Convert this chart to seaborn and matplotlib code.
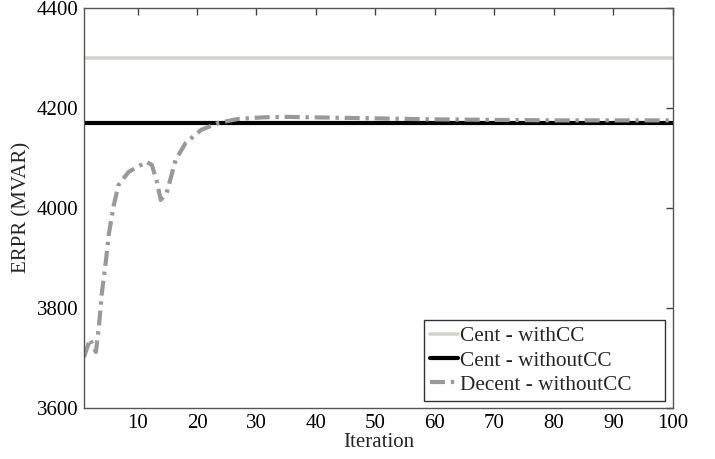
import matplotlib
matplotlib.use("Agg")
import matplotlib.pyplot as plt
import seaborn as sns
import pandas as pd
import numpy as np

sns.set_theme(style="white")
plt.rcParams['font.family'] = ['Liberation Serif', 'DejaVu Serif']
plt.rcParams['mathtext.fontset'] = 'stix'

iters_full = [1, 100]
cent_withcc = [4300, 4300]
cent_withoutcc = [4170, 4170]

dec_iter = [1, 2, 3, 3.5, 4, 4.7, 5.2, 6, 6.8, 8.5, 10, 11.5, 12.4, 13.2, 13.9, 14.9,
            16.4, 18.1, 20.7, 23.6, 27, 31, 35, 40, 50, 60, 70, 80, 90, 100]
dec_vals = [3702, 3738, 3712, 3762, 3830, 3896, 3950, 4005, 4046, 4072, 4082, 4092, 4086,
            4055, 4016, 4030, 4096, 4130, 4156, 4170, 4178, 4181, 4182, 4181, 4179, 4177,
            4176, 4175, 4175, 4175]

df1 = pd.DataFrame({"Iteration": iters_full, "v": cent_withcc})
df2 = pd.DataFrame({"Iteration": iters_full, "v": cent_withoutcc})
df3 = pd.DataFrame({"Iteration": dec_iter, "v": dec_vals})

fig = plt.figure(figsize=(7.15, 4.59), dpi=100)
ax = fig.add_axes([0.1175, 0.111, 0.8235, 0.872])

sns.lineplot(data=df1, x="Iteration", y="v", ax=ax, color="#d6d3cc", lw=2.6, label="Cent - withCC")
sns.lineplot(data=df2, x="Iteration", y="v", ax=ax, color="#000000", lw=3.0, label="Cent - withoutCC")
sns.lineplot(data=df3, x="Iteration", y="v", ax=ax, color="#999999", lw=3.0,
             label="Decent - withoutCC")
ax.lines[-1].set_linestyle((0, (3.6, 1.4, 0.8, 1.4)))

ax.set_xlim(1, 100)
ax.set_ylim(3600, 4400)
ax.set_xticks(np.arange(10, 101, 10))
ax.set_yticks(np.arange(3600, 4401, 200))
ax.set_xlabel("Iteration", fontsize=15, labelpad=0)
ax.set_ylabel("ERPR (MVAR)", fontsize=15, labelpad=4)
ax.tick_params(direction="in", length=5, width=1, colors="#444444", labelcolor="black",
               labelsize=15, top=True, right=True, pad=4)
for s in ax.spines.values():
    s.set_color("#555555")
    s.set_linewidth(1.0)

leg = ax.legend(loc="lower left", bbox_to_anchor=(0.577, 0.0175, 0.409, 0.2),
                mode="expand", fontsize=15.3, frameon=True, fancybox=False,
                edgecolor="black", handlelength=1.3, handletextpad=0.1,
                borderpad=0.3, labelspacing=0.2, borderaxespad=0.0)
leg.get_frame().set_linewidth(1.0)

fig.savefig("out.png", dpi=100)
